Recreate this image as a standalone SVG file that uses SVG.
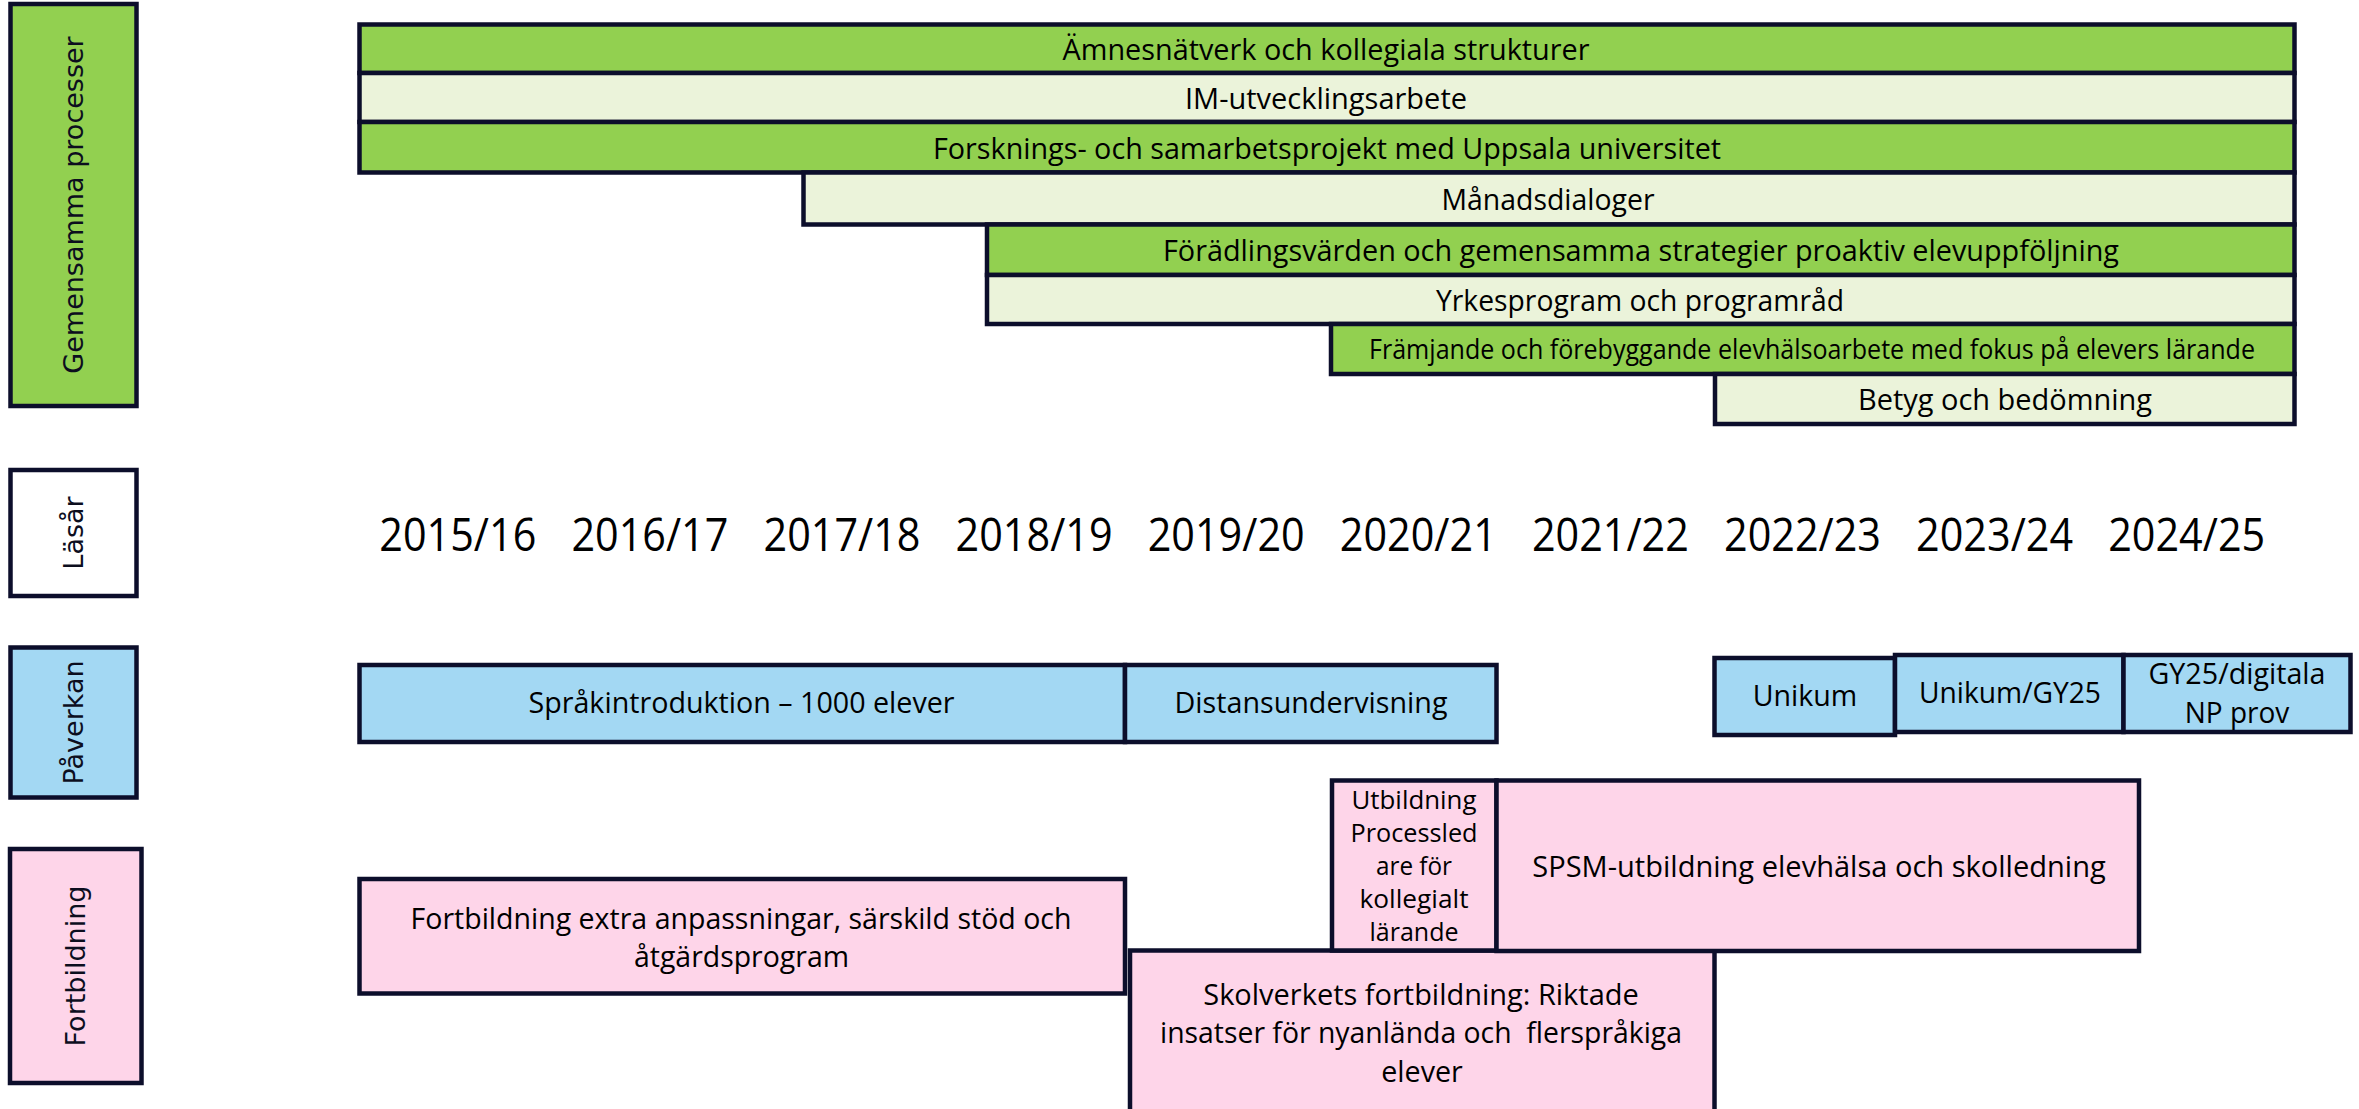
<svg xmlns="http://www.w3.org/2000/svg" width="2359" height="1109" viewBox="0 0 2359 1109">
<style>
.bx{stroke:#0c0e2b;stroke-width:4.5}
.g{fill:#92d050}.lg{fill:#ebf3da}.b{fill:#a3d8f3}.p{fill:#fed5e9}.w{fill:#ffffff}
.t{font-family:"Open Sans","Noto Sans","Liberation Sans",sans-serif;font-size:29.5px;fill:#000;text-anchor:middle}
.s{font-size:26.5px}
.u{font-size:25px}
.y{font-size:46.5px}
.lab{font-family:"DejaVu Sans",Verdana,sans-serif;font-size:27px;fill:#0c0e1e;text-anchor:middle}
</style>
<rect width="2359" height="1109" fill="#ffffff"/>

<g id="label-gemensamma">
<rect class="bx g" x="10.5" y="4" width="126" height="402"/>
<text class="lab" transform="translate(83,205) rotate(-90)">Gemensamma processer</text>
</g>
<g id="label-lasar">
<rect class="bx w" x="10.5" y="470" width="126" height="126"/>
<text class="lab" transform="translate(83,533) rotate(-90)">Läsår</text>
</g>
<g id="label-paverkan">
<rect class="bx b" x="10.5" y="647.5" width="126" height="150"/>
<text class="lab" transform="translate(83,722.5) rotate(-90)">Påverkan</text>
</g>
<g id="label-fortbildning">
<rect class="bx p" x="10" y="849" width="131.5" height="234"/>
<text class="lab" transform="translate(85,966) rotate(-90)">Fortbildning</text>
</g>

<g id="bar-amnesnatverk">
<rect class="bx g" x="359.5" y="24.5" width="1935" height="48.5"/>
<text class="t" x="1326" y="60" textLength="527" lengthAdjust="spacingAndGlyphs">Ämnesnätverk och kollegiala strukturer</text>
</g>
<g id="bar-im">
<rect class="bx lg" x="359.5" y="73" width="1935" height="49"/>
<text class="t" x="1326" y="109" textLength="282" lengthAdjust="spacingAndGlyphs">IM-utvecklingsarbete</text>
</g>
<g id="bar-forskning">
<rect class="bx g" x="359.5" y="122" width="1935" height="50.5"/>
<text class="t" x="1327" y="159" textLength="788" lengthAdjust="spacingAndGlyphs">Forsknings- och samarbetsprojekt med Uppsala universitet</text>
</g>
<g id="bar-manadsdialoger">
<rect class="bx lg" x="803.5" y="172.5" width="1491" height="52"/>
<text class="t" x="1548" y="210" textLength="213" lengthAdjust="spacingAndGlyphs">Månadsdialoger</text>
</g>
<g id="bar-foradling">
<rect class="bx g" x="987" y="224.5" width="1307.5" height="50.5"/>
<text class="t" x="1641" y="261" textLength="956" lengthAdjust="spacingAndGlyphs">Förädlingsvärden och gemensamma strategier proaktiv elevuppföljning</text>
</g>
<g id="bar-yrkesprogram">
<rect class="bx lg" x="987" y="275" width="1307.5" height="49"/>
<text class="t" x="1640" y="311" textLength="408" lengthAdjust="spacingAndGlyphs">Yrkesprogram och programråd</text>
</g>
<g id="bar-framjande">
<rect class="bx g" x="1331" y="324" width="963.5" height="50"/>
<text class="t s" x="1812" y="359" textLength="886" lengthAdjust="spacingAndGlyphs">Främjande och förebyggande elevhälsoarbete med fokus på elevers lärande</text>
</g>
<g id="bar-betyg">
<rect class="bx lg" x="1715" y="374" width="579.5" height="50"/>
<text class="t" x="2005" y="410" textLength="294" lengthAdjust="spacingAndGlyphs">Betyg och bedömning</text>
</g>

<g id="years">
<text class="t y" x="457.8" y="550.5" textLength="157" lengthAdjust="spacingAndGlyphs">2015/16</text>
<text class="t y" x="649.9" y="550.5" textLength="157" lengthAdjust="spacingAndGlyphs">2016/17</text>
<text class="t y" x="842" y="550.5" textLength="157" lengthAdjust="spacingAndGlyphs">2017/18</text>
<text class="t y" x="1034.1" y="550.5" textLength="157" lengthAdjust="spacingAndGlyphs">2018/19</text>
<text class="t y" x="1226.2" y="550.5" textLength="157" lengthAdjust="spacingAndGlyphs">2019/20</text>
<text class="t y" x="1418.3" y="550.5" textLength="157" lengthAdjust="spacingAndGlyphs">2020/21</text>
<text class="t y" x="1610.4" y="550.5" textLength="157" lengthAdjust="spacingAndGlyphs">2021/22</text>
<text class="t y" x="1802.5" y="550.5" textLength="157" lengthAdjust="spacingAndGlyphs">2022/23</text>
<text class="t y" x="1994.6" y="550.5" textLength="157" lengthAdjust="spacingAndGlyphs">2023/24</text>
<text class="t y" x="2186.7" y="550.5" textLength="157" lengthAdjust="spacingAndGlyphs">2024/25</text>
</g>

<g id="pav-sprakintro">
<rect class="bx b" x="359.5" y="665" width="765.5" height="77"/>
<text class="t" x="741.5" y="713" textLength="426" lengthAdjust="spacingAndGlyphs">Språkintroduktion – 1000 elever</text>
</g>
<g id="pav-distans">
<rect class="bx b" x="1125" y="665" width="371.5" height="77"/>
<text class="t" x="1311" y="713" textLength="273" lengthAdjust="spacingAndGlyphs">Distansundervisning</text>
</g>
<g id="pav-unikum">
<rect class="bx b" x="1714.5" y="658" width="180.5" height="77"/>
<text class="t" x="1805" y="706" textLength="104.6" lengthAdjust="spacingAndGlyphs">Unikum</text>
</g>
<g id="pav-unikum-gy25">
<rect class="bx b" x="1895" y="655" width="228.5" height="77"/>
<text class="t" x="2010" y="703" textLength="182" lengthAdjust="spacingAndGlyphs">Unikum/GY25</text>
</g>
<g id="pav-gy25-digitala">
<rect class="bx b" x="2123.5" y="655" width="227" height="77"/>
<text class="t" x="2237" y="684" textLength="177" lengthAdjust="spacingAndGlyphs">GY25/digitala</text>
<text class="t" x="2237" y="723" textLength="104.6" lengthAdjust="spacingAndGlyphs">NP prov</text>
</g>

<g id="fort-extra-anpassningar">
<rect class="bx p" x="359.5" y="879" width="765.5" height="114.5"/>
<text class="t" x="741" y="928.5" textLength="661" lengthAdjust="spacingAndGlyphs">Fortbildning extra anpassningar, särskild stöd och</text>
<text class="t" x="741.5" y="967" textLength="215" lengthAdjust="spacingAndGlyphs">åtgärdsprogram</text>
</g>
<g id="fort-skolverket">
<rect class="bx p" x="1130" y="950.5" width="584.5" height="200"/>
<text class="t" x="1421" y="1004.5" textLength="435.5" lengthAdjust="spacingAndGlyphs">Skolverkets fortbildning: Riktade</text>
<text class="t" x="1421" y="1043" textLength="522" lengthAdjust="spacingAndGlyphs" xml:space="preserve">insatser för nyanlända och  flerspråkiga</text>
<text class="t" x="1422" y="1081.5" textLength="81.6" lengthAdjust="spacingAndGlyphs">elever</text>
</g>
<g id="fort-processledare">
<rect class="bx p" x="1332" y="780.5" width="164.5" height="170"/>
<text class="t u" x="1414" y="808.5" textLength="125" lengthAdjust="spacingAndGlyphs">Utbildning</text>
<text class="t u" x="1414" y="841.5" textLength="127" lengthAdjust="spacingAndGlyphs">Processled</text>
<text class="t u" x="1414" y="874.5" textLength="76" lengthAdjust="spacingAndGlyphs">are för</text>
<text class="t u" x="1414" y="907.5" textLength="109" lengthAdjust="spacingAndGlyphs">kollegialt</text>
<text class="t u" x="1414" y="940.5" textLength="89" lengthAdjust="spacingAndGlyphs">lärande</text>
</g>
<g id="fort-spsm">
<rect class="bx p" x="1496.5" y="780.5" width="642.5" height="170.5"/>
<text class="t" x="1819" y="876.5" textLength="573.5" lengthAdjust="spacingAndGlyphs">SPSM-utbildning elevhälsa och skolledning</text>
</g>

<g id="connectors"/>
</svg>
